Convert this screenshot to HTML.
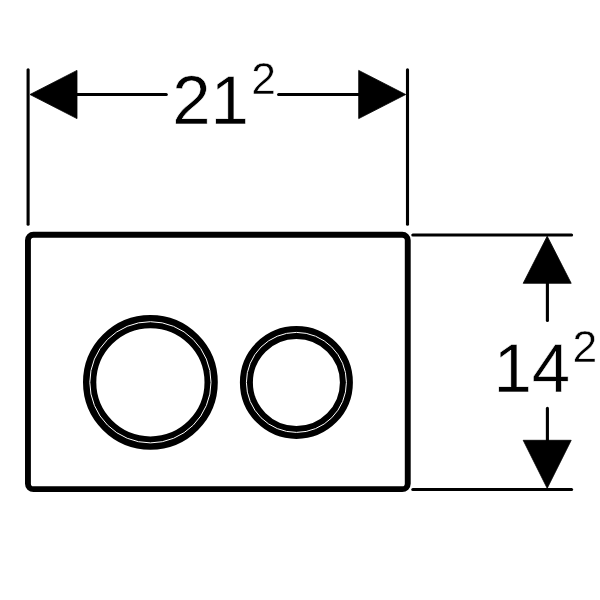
<!DOCTYPE html>
<html>
<head>
<meta charset="utf-8">
<title>Dimension drawing</title>
<style>
html,body{margin:0;padding:0;background:#fff;}
body{width:600px;height:600px;overflow:hidden;}
svg{display:block;will-change:transform;}
text{font-family:"Liberation Sans",sans-serif;fill:#000;text-rendering:geometricPrecision;stroke:#fff;stroke-width:0.5;}
</style>
</head>
<body>
<svg width="600" height="600" viewBox="0 0 600 600">
<rect width="600" height="600" fill="#fff"/>
<!-- plate -->
<rect x="27.95" y="234.75" width="379.8" height="254.4" rx="5.5" ry="5.5" fill="none" stroke="#000" stroke-width="5.9"/>
<!-- buttons -->
<circle cx="150.4" cy="382.3" r="60.75" fill="none" stroke="#000" stroke-width="13.3"/>
<circle cx="150.4" cy="382.3" r="60.6" fill="none" stroke="#fff" stroke-width="1"/>
<circle cx="296.4" cy="382.4" r="50" fill="none" stroke="#000" stroke-width="13"/>
<circle cx="296.4" cy="382.4" r="50" fill="none" stroke="#fff" stroke-width="1"/>
<!-- dimensions -->
<g stroke="#000" stroke-width="3.1" fill="none" stroke-linecap="round">
<line x1="28.1" y1="69.7" x2="28.1" y2="224.2"/>
<line x1="407.5" y1="69.7" x2="407.5" y2="224.2"/>
<line x1="76" y1="94.5" x2="166.3" y2="94.5"/>
<line x1="278.6" y1="94.5" x2="360" y2="94.5"/>
<line x1="412.8" y1="235" x2="571.6" y2="235"/>
<line x1="412.8" y1="489.5" x2="571.6" y2="489.5"/>
<line x1="547.4" y1="282" x2="547.4" y2="320.4"/>
<line x1="547.4" y1="408.4" x2="547.4" y2="441"/>
</g>
<g fill="#000" stroke="#000" stroke-width="0.8" stroke-linejoin="round">
<polygon points="30,94.5 77,70.4 77,118.6"/>
<polygon points="405.7,94.5 358.7,70.4 358.7,118.6"/>
<polygon points="547.2,236.2 523.2,283.3 571.2,283.3"/>
<polygon points="547.2,488.3 523.2,440.3 571.2,440.3"/>
</g>
<text x="172.2" y="124" font-size="69">21</text>
<text x="251.2" y="94" font-size="44.5" stroke-width="0.25">2</text>
<text x="493.5" y="391.9" font-size="69">14</text>
<text x="572.4" y="361.8" font-size="44.5" stroke-width="0.25">2</text>
</svg>
</body>
</html>
